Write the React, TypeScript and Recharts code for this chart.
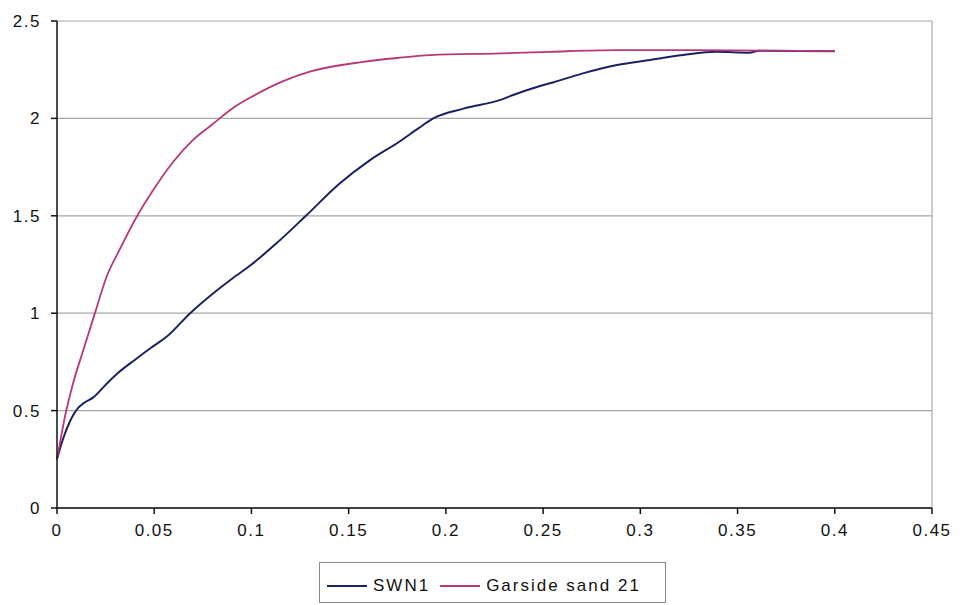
import React from "react";
import {
  LineChart,
  Line,
  XAxis,
  YAxis,
  CartesianGrid,
  Legend,
  ReferenceLine,
} from "recharts";

// SWN1 curve
const swn1X = [
  0, 0.002, 0.004, 0.006, 0.0085, 0.011, 0.0135, 0.0187, 0.025, 0.031, 0.04,
  0.048, 0.0565, 0.0685, 0.082, 0.09, 0.1, 0.113, 0.128, 0.1455, 0.161, 0.176,
  0.186, 0.1935, 0.209, 0.228, 0.2346, 0.248, 0.2535, 0.27, 0.288, 0.305,
  0.322, 0.339, 0.356, 0.361, 0.4,
];
const swn1Y = [
  0.25, 0.32, 0.38, 0.43, 0.48, 0.515, 0.537, 0.568, 0.632, 0.69, 0.76, 0.82,
  0.88, 1.0, 1.115, 1.177, 1.25, 1.36, 1.5, 1.667, 1.786, 1.88, 1.95, 2.0,
  2.05, 2.095, 2.12, 2.165, 2.18, 2.23, 2.274, 2.3, 2.325, 2.342, 2.337, 2.347,
  2.345,
];

// Garside sand 21 curve
const garsideX = [
  0, 0.002, 0.0041, 0.008, 0.0135, 0.0195, 0.0255, 0.0324, 0.041, 0.05, 0.06,
  0.07, 0.08, 0.09, 0.1, 0.116, 0.13, 0.1575, 0.175, 0.192, 0.228, 0.2535,
  0.288, 0.33, 0.4,
];
const garsideY = [
  0.25, 0.36, 0.47, 0.63, 0.81, 1.0, 1.187, 1.33, 1.495, 1.64, 1.78, 1.89,
  1.97, 2.05, 2.11, 2.19, 2.24, 2.29, 2.31, 2.325, 2.334, 2.342, 2.35, 2.35,
  2.345,
];

const xTicks = [0, 0.05, 0.1, 0.15, 0.2, 0.25, 0.3, 0.35, 0.4, 0.45];
const yTicks = [0, 0.5, 1, 1.5, 2, 2.5];

const swn1Data = swn1X.map((x, i) => ({ x, y: swn1Y[i] }));
const garsideData = garsideX.map((x, i) => ({ x, y: garsideY[i] }));

const SWN1_COLOR = "#1c2260";
const GARSIDE_COLOR = "#b8377a";
const FONT = "'Liberation Sans', Arial, sans-serif";

const tickStyle = { fontSize: 17, fill: "#111", letterSpacing: 1.5, fontFamily: FONT };

const LegendBox = () => (
  <div style={{ position: "relative", width: 960, height: 57 }}>
    <div
      style={{
        position: "absolute",
        left: 319,
        top: 14,
        width: 347,
        height: 41,
        border: "1px solid #888",
        display: "flex",
        alignItems: "center",
        fontFamily: FONT,
        fontSize: 17,
        letterSpacing: 2,
        color: "#111",
        paddingTop: 6,
        boxSizing: "border-box",
      }}
    >
      <span style={{ marginLeft: 7, width: 40, borderTop: `2px solid ${SWN1_COLOR}` }} />
      <span style={{ marginLeft: 6 }}>SWN1</span>
      <span style={{ marginLeft: 10, width: 40, borderTop: `2px solid ${GARSIDE_COLOR}` }} />
      <span style={{ marginLeft: 6 }}>Garside sand 21</span>
    </div>
  </div>
);

export default function App() {
  return (
    <div style={{ position: "absolute", left: 0, top: 0, width: 960, height: 605, background: "#fff" }}>
      <LineChart
        width={960}
        height={605}
        margin={{ top: 21, right: 28, left: 0, bottom: 0 }}
      >
        <CartesianGrid vertical={false} stroke="#a8a8a8" strokeWidth={1.2} />
        <XAxis
          type="number"
          dataKey="x"
          domain={[0, 0.45]}
          ticks={xTicks}
          allowDuplicatedCategory={false}
          tick={tickStyle}
          tickSize={6}
          tickMargin={10}
          stroke="#111"
          strokeWidth={1.5}
          height={40}
        />
        <YAxis
          type="number"
          dataKey="y"
          domain={[0, 2.5]}
          ticks={yTicks}
          tick={tickStyle}
          tickSize={6}
          tickMargin={10}
          stroke="#111"
          strokeWidth={1.5}
          width={57}
        />
        <ReferenceLine x={0.45} stroke="#a8a8a8" strokeWidth={1.2} />
        <Legend
          verticalAlign="bottom"
          content={() => <LegendBox />}
          wrapperStyle={{ left: 0, width: 960, height: 57 }}
        />
        <Line
          data={swn1Data}
          dataKey="y"
          name="SWN1"
          type="monotone"
          stroke={SWN1_COLOR}
          strokeWidth={2}
          dot={false}
          isAnimationActive={false}
        />
        <Line
          data={garsideData}
          dataKey="y"
          name="Garside sand 21"
          type="monotone"
          stroke={GARSIDE_COLOR}
          strokeWidth={1.8}
          dot={false}
          isAnimationActive={false}
        />
      </LineChart>
    </div>
  );
}
